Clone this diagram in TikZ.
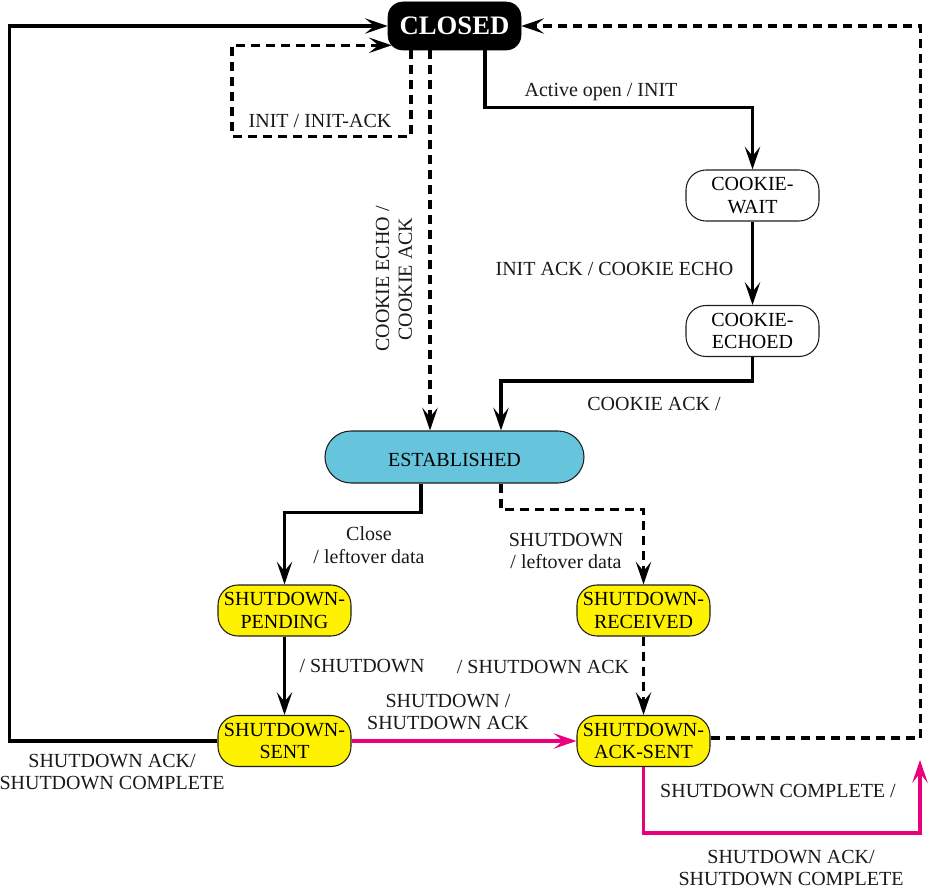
\documentclass[tikz,border=0pt]{standalone}
\usepackage{fontspec}
\setmainfont{Liberation Serif}
\usetikzlibrary{arrows.meta,calc}
\definecolor{estcyan}{RGB}{102,197,221}
\definecolor{pinkc}{RGB}{232,0,125}
\definecolor{edgec}{RGB}{30,30,30}
\begin{document}
\begin{tikzpicture}[x=0.75pt,y=-0.75pt,
  txt/.style={font=\fontsize{15}{17}\selectfont},
  state/.style={txt, draw=edgec, line width=0.8pt, rounded corners=15pt,
    minimum width=99.75pt, minimum height=38.25pt, inner sep=0pt, align=center},
  cookiest/.style={state, fill=white},
  shutst/.style={state, fill=yellow},
  estst/.style={state, fill=estcyan, minimum width=194.25pt, minimum height=39pt, rounded corners=19.5pt,
    text height=14pt, text depth=0pt},
  closedst/.style={fill=black, draw=black, rounded corners=11pt, minimum width=99.75pt,
    minimum height=36pt, inner sep=0pt, text=white, font=\fontsize{20}{24}\selectfont\bfseries},
  conn/.style={line width=2.5pt, draw=black, -{Stealth[length=17pt,width=11.5pt,inset=7pt]}},
  dashline/.style={conn, dash pattern=on 6.75pt off 4.5pt},
  pinkline/.style={conn, draw=pinkc},
  lab/.style={txt, align=center, inner sep=0pt, text=black!90}
]
\useasboundingbox (0,0) rectangle (931,892);

% states
\node[closedst] (CLOSED) at (454.5,26) {CLOSED};
\node[cookiest] (CW) at (752.5,195.5) {COOKIE-\\WAIT};
\node[cookiest] (CE) at (752.5,331) {COOKIE-\\ECHOED};
\node[estst] (EST) at (454.5,457) {ESTABLISHED};
\node[shutst] (SP) at (284.5,610.5) {SHUTDOWN-\\PENDING};
\node[shutst] (SR) at (643.5,610.5) {SHUTDOWN-\\RECEIVED};
\node[shutst] (SS) at (284.5,741) {SHUTDOWN-\\SENT};
\node[shutst] (SAS) at (643.5,741) {SHUTDOWN-\\ACK-SENT};
\coordinate (pinkend) at (920,760);

% connectors
\draw[conn] (SS.west) -| ($(CLOSED.west)+(-378,0)$) -- (CLOSED.west);
\draw[dashline] ($(CLOSED.south)+(-43.5,0)$) -- ++(0,86) -- ++(-179,0) -- ++(0,-91)
   -- ($(CLOSED.south west)+(4,-5)$);
\draw[dashline] ($(CLOSED.south)+(-24.5,0)$) -- ($(EST.north)+(-24.5,0)$);
\draw[conn] ($(CLOSED.south)+(30.5,0)$) -- ++(0,57) -| (CW.north);
\draw[conn] (CW.south) -- (CE.north);
\draw[conn] (CE.south) -- ++(0,24) -| ($(EST.north)+(46.5,0)$);
\draw[conn] ($(EST.south)+(-33.5,0)$) -- ++(0,29) -| (SP.north);
\draw[dashline] ($(EST.south)+(46.5,0)$) -- ++(0,26) -| (SR.north);
\draw[conn] (SP.south) -- (SS.north);
\draw[dashline] (SR.south) -- (SAS.north);
\draw[pinkline] (SS.east) -- (SAS.west);
\draw[dashline] ($(SAS.east)+(0,-3)$) -| ($(CLOSED.east)+(399,0)$) -- (CLOSED.east);
\draw[pinkline] (SAS.south) -- ++(0,66) -| (pinkend);

% labels
\node[lab] (l1) at (112,772) {SHUTDOWN ACK/\\SHUTDOWN COMPLETE};
\node[lab] (l2) at (320,121) {INIT / INIT-ACK};
\node[lab, rotate=90] (l3) at (394,279) {COOKIE ECHO /\\COOKIE ACK};
\node[lab] (l4) at (601,92) {Active open / INIT};
\node[lab] (l5) at (614.5,269) {INIT ACK / COOKIE ECHO};
\node[lab] (l6) at (654,404) {COOKIE ACK /};
\node[lab] (l7) at (369,545) {Close\\/ leftover data};
\node[lab] (l8) at (566,551) {SHUTDOWN\\/ leftover data};
\node[lab] (l9) at (362,666) {/ SHUTDOWN};
\node[lab] (l10) at (543,667) {/ SHUTDOWN ACK};
\node[lab] (l11) at (448,712) {SHUTDOWN /\\SHUTDOWN ACK};
\node[lab] (l12) at (778,791) {SHUTDOWN COMPLETE /};
\node[lab] (l13) at (791,868) {SHUTDOWN ACK/\\SHUTDOWN COMPLETE};
\end{tikzpicture}
\end{document}
